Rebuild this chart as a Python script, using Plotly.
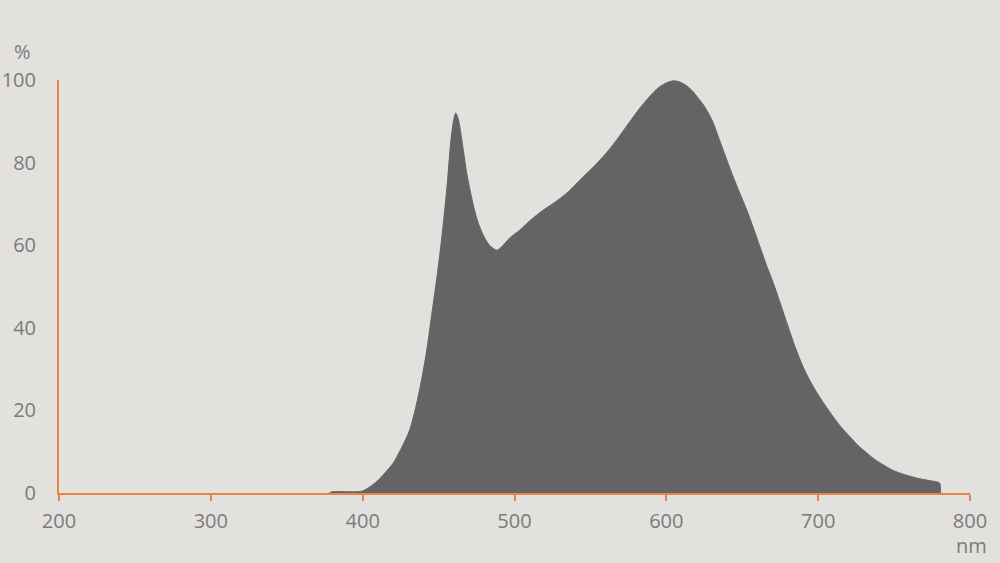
import plotly.graph_objects as go

# Relative spectral intensity (%) vs wavelength (nm)
wavelength = [378, 380, 390, 396, 400, 404.8, 410, 415, 420, 425, 431, 435, 439, 442.5, 445.7,
              449, 452, 455.5, 458, 460, 461.3, 463, 464.5, 466.5, 468.5, 470.7, 473, 476, 480,
              484, 488.5, 492, 497, 503.6, 511, 519, 527, 534.4, 540, 545.3, 551, 556.3, 562,
              567.3, 573, 578.3, 583, 587.1, 591.5, 595.8, 600, 604.6, 609, 613.4, 617.5, 621,
              624.4, 628, 631, 634, 637.5, 641, 644, 648.5, 653, 657.5, 661.7, 666, 670.5, 675,
              680, 685, 690, 695, 700, 705, 710, 715, 721, 726, 732, 737, 743, 748, 754, 760,
              765, 772, 778, 780, 780.5]
intensity = [0, 0.3, 0.3, 0.3, 0.5, 1.5, 3.0, 5.0, 7.2, 10.5, 15.3, 20.8, 27.8, 35.3, 43.8,
             52.5, 61.5, 74.0, 85.0, 90.5, 92.0, 90.5, 87.5, 82.5, 77.5, 73.4, 69.5, 65.5, 62.0,
             59.8, 58.8, 59.8, 61.8, 63.7, 66.2, 68.5, 70.5, 72.6, 74.6, 76.6, 78.6, 80.6, 83.0,
             85.5, 88.4, 91.1, 93.4, 95.2, 97.0, 98.4, 99.3, 99.8, 99.5, 98.6, 97.2, 95.6,
             94.0, 91.8, 89.5, 86.5, 83.0, 79.5, 76.6, 72.5, 68.5, 64.0, 59.6, 55.1, 50.8, 46.0,
             40.5, 35.2, 30.6, 26.9, 23.8, 21.0, 18.4, 16.0, 13.6, 11.6, 9.7, 8.2, 6.8, 5.7, 4.8, 4.1,
             3.6, 3.1, 2.7, 2.4, 0]

x_ticks = [200, 300, 400, 500, 600, 700, 800]
y_ticks = [0, 20, 40, 60, 80, 100]

BG = "#e3e1de"
FILL = "#646466"
AXIS = "#e8834a"
TEXT = "#7b7b7b"
FONT = "Open Sans"

fig = go.Figure()
fig.add_trace(go.Scatter(
    x=wavelength, y=intensity, mode="lines", fill="tozeroy",
    fillcolor=FILL, line=dict(color=FILL, width=1, shape="spline", smoothing=0.8),
    hoverinfo="skip", showlegend=False,
))

fig.update_layout(
    width=1000, height=563,
    paper_bgcolor=BG, plot_bgcolor=BG,
    margin=dict(l=59, r=30, t=80, b=70),
    font=dict(family=FONT, size=20, color=TEXT),
    xaxis=dict(range=[200, 800], tickvals=x_ticks, showgrid=False, zeroline=False,
               showline=True, linecolor=AXIS, linewidth=2,
               ticks="outside", ticklen=6, tickwidth=2, tickcolor=AXIS,
               ticklabelstandoff=3, automargin=False),
    yaxis=dict(range=[0, 100], tickvals=y_ticks, showgrid=False, zeroline=False,
               showline=True, linecolor=AXIS, linewidth=2, ticks="",
               ticklabelstandoff=17, automargin=False),
    annotations=[
        dict(text="%", xref="paper", yref="paper", x=-0.0406, y=1.068,
             showarrow=False, xanchor="center", yanchor="middle",
             font=dict(family=FONT, size=20, color=TEXT)),
        dict(text="nm", xref="paper", yref="paper", x=1.002, y=-0.128,
             showarrow=False, xanchor="center", yanchor="middle",
             font=dict(family=FONT, size=20, color=TEXT)),
    ],
)

fig.write_html(
    "out.html",
    config={"displayModeBar": False},
    post_script="document.body.style.margin='0';document.body.style.overflow='hidden';",
)
